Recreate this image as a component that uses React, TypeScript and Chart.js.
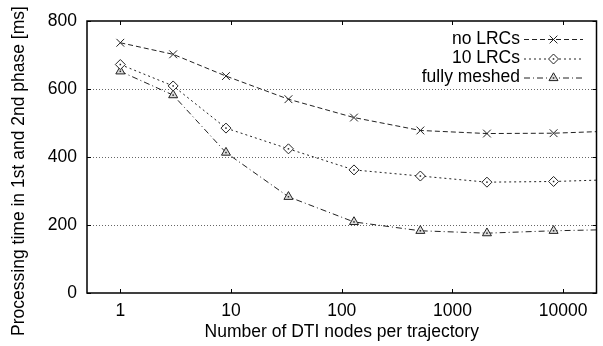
import React, { useEffect, useRef } from "react";
import { Chart, registerables } from "chart.js";

Chart.register(...registerables);

const xValues = [1, 3, 9, 33, 129, 513, 2049, 8193, 32769];
const noLRCs = [736, 702, 638, 570, 516, 478, 469, 470, 477];
const tenLRCs = [672, 609, 485, 424, 362, 344, 326, 328, 334];
const fullyMeshed = [652, 582, 413, 283, 209, 183, 176, 183, 187];
const seriesNames = ["no LRCs", "10 LRCs", "fully meshed"];
const xTicks = [1, 10, 100, 1000, 10000];
const yTicks = [0, 200, 400, 600, 800];
const xTitle = "Number of DTI nodes per trajectory";
const yTitle = "Processing time in 1st and 2nd phase [ms]";

const FONT = "'Liberation Sans', Arial, Helvetica, sans-serif";
const FS = 17.5;
const dashes = [[5, 3], [2, 3], [6, 3, 1, 3]];
const styles = ["crossRot", "rectRot", "triangle"];
const radii = [5.5, 5, 5.2];
const fills = ["rgba(0,0,0,0)", "#fff", "#ddd"];
const centerDot = [false, true, true];

function drawMarker(ctx: CanvasRenderingContext2D, style: string, x: number, y: number, r: number, fill: string, dot: boolean) {
  ctx.beginPath();
  if (style === "crossRot") {
    const o = Math.cos(Math.PI / 4) * r;
    ctx.moveTo(x - o, y - o);
    ctx.lineTo(x + o, y + o);
    ctx.moveTo(x - o, y + o);
    ctx.lineTo(x + o, y - o);
    ctx.stroke();
    return;
  }
  if (style === "rectRot") {
    ctx.moveTo(x, y - r);
    ctx.lineTo(x + r, y);
    ctx.lineTo(x, y + r);
    ctx.lineTo(x - r, y);
    ctx.closePath();
  } else {
    for (let i = 0; i < 3; i++) {
      const ang = -Math.PI / 2 + (i * 2 * Math.PI) / 3;
      const px = x + Math.cos(ang) * r;
      const py = y + Math.sin(ang) * r;
      if (i === 0) ctx.moveTo(px, py);
      else ctx.lineTo(px, py);
    }
    ctx.closePath();
  }
  ctx.fillStyle = fill;
  ctx.fill();
  ctx.stroke();
  if (dot) {
    ctx.fillStyle = "#222";
    ctx.fillRect(x - 0.75, y - 0.75, 1.5, 1.5);
  }
}

const framePlugin = {
  id: "frame",
  beforeDatasetsDraw(chart: any) {
    const { ctx, chartArea: a, scales } = chart;
    const ys = scales.y;
    ctx.save();
    ctx.strokeStyle = "#666";
    ctx.lineWidth = 1;
    ctx.setLineDash([1, 2]);
    for (const v of [200, 400, 600]) {
      const py = Math.round(ys.getPixelForValue(v)) + 0.5;
      ctx.beginPath();
      ctx.moveTo(a.left, py);
      ctx.lineTo(a.right, py);
      ctx.stroke();
    }
    ctx.restore();
  },
  afterDatasetsDraw(chart: any) {
    const { ctx, chartArea: a } = chart;
    ctx.save();
    ctx.beginPath();
    ctx.rect(a.left, a.top, a.right - a.left, a.bottom - a.top);
    ctx.clip();
    ctx.fillStyle = "#222";
    chart.data.datasets.forEach((_: any, i: number) => {
      if (!centerDot[i]) return;
      const meta = chart.getDatasetMeta(i);
      meta.data.forEach((pt: any) => {
        ctx.fillRect(pt.x - 0.75, pt.y - 0.75, 1.5, 1.5);
      });
    });
    ctx.restore();
  },
  afterDraw(chart: any) {
    const { ctx, chartArea: a, scales } = chart;
    const xs = scales.x;
    const ys = scales.y;
    ctx.save();
    ctx.strokeStyle = "#000";
    ctx.lineWidth = 1.5;
    ctx.setLineDash([]);
    ctx.strokeRect(a.left, a.top, a.right - a.left, a.bottom - a.top);
    ctx.lineWidth = 1;
    const tl = 4;
    for (const v of xTicks) {
      const px = Math.round(xs.getPixelForValue(v)) + 0.5;
      ctx.beginPath();
      ctx.moveTo(px, a.bottom);
      ctx.lineTo(px, a.bottom - tl);
      ctx.moveTo(px, a.top);
      ctx.lineTo(px, a.top + tl);
      ctx.stroke();
    }
    for (const v of yTicks) {
      const py = Math.round(ys.getPixelForValue(v)) + 0.5;
      ctx.beginPath();
      ctx.moveTo(a.left, py);
      ctx.lineTo(a.left + tl, py);
      ctx.moveTo(a.right, py);
      ctx.lineTo(a.right - tl, py);
      ctx.stroke();
    }
    ctx.fillStyle = "#000";
    ctx.font = `${FS}px ${FONT}`;
    ctx.translate(19, 171);
    ctx.rotate(-Math.PI / 2);
    ctx.textAlign = "center";
    ctx.textBaseline = "middle";
    ctx.fillText(yTitle, 0, 0);
    ctx.restore();

    ctx.save();
    ctx.font = `${FS}px ${FONT}`;
    ctx.textAlign = "right";
    ctx.textBaseline = "middle";
    const rows = [39, 58.5, 77.5];
    for (let i = 0; i < seriesNames.length; i++) {
      const y = rows[i];
      ctx.fillStyle = "#000";
      ctx.fillText(seriesNames[i], 520, y);
      ctx.strokeStyle = "#222";
      ctx.lineWidth = 1;
      ctx.setLineDash(dashes[i]);
      ctx.beginPath();
      ctx.moveTo(524, y + 0.5);
      ctx.lineTo(583, y + 0.5);
      ctx.stroke();
      ctx.setLineDash([]);
      drawMarker(ctx, styles[i], 553.5, y + 0.5, radii[i], fills[i], centerDot[i]);
    }
    ctx.restore();
  },
};

export default function App() {
  const ref = useRef<HTMLCanvasElement | null>(null);
  useEffect(() => {
    document.body.style.margin = "0";
    if (!ref.current) return;
    Chart.defaults.font.family = FONT;
    Chart.defaults.font.size = FS;
    Chart.defaults.color = "#000";
    const series = [noLRCs, tenLRCs, fullyMeshed];
    const chart = new Chart(ref.current, {
      type: "line",
      data: {
        datasets: series.map((vals, i) => ({
          label: seriesNames[i],
          data: xValues.map((x, j) => ({ x, y: vals[j] })),
          borderColor: "#222",
          borderWidth: 1,
          borderDash: dashes[i],
          tension: 0,
          fill: false,
          pointStyle: styles[i] as any,
          pointRadius: radii[i],
          pointBorderColor: "#222",
          pointBackgroundColor: fills[i],
          pointBorderWidth: 1,
        })),
      },
      options: {
        animation: false,
        responsive: false,
        maintainAspectRatio: false,
        layout: { padding: { top: 21, right: 1, left: 0, bottom: 0 } },
        plugins: { legend: { display: false }, tooltip: { enabled: false } },
        scales: {
          x: {
            type: "logarithmic",
            min: 0.5,
            max: 20000,
            grid: { display: false, drawTicks: false },
            border: { display: false },
            afterBuildTicks: (s: any) => {
              s.ticks = xTicks.map((v) => ({ value: v }));
            },
            afterFit: (s: any) => {
              s.height = 53;
            },
            ticks: {
              autoSkip: false,
              maxRotation: 0,
              padding: 8,
              callback: (v: any) => String(v),
            },
            title: {
              display: true,
              text: xTitle,
              padding: { top: 0, bottom: 3 },
            },
          },
          y: {
            type: "linear",
            min: 0,
            max: 800,
            grid: { display: false, drawTicks: false },
            border: { display: false },
            afterBuildTicks: (s: any) => {
              s.ticks = yTicks.map((v) => ({ value: v }));
            },
            afterFit: (s: any) => {
              s.width = 87;
            },
            ticks: { padding: 10, callback: (v: any) => String(v) },
          },
        },
      },
      plugins: [framePlugin],
    });
    return () => chart.destroy();
  }, []);
  return (
    <div style={{ width: 603, height: 346 }}>
      <canvas ref={ref} width={603} height={346} style={{ display: "block" }} />
    </div>
  );
}
